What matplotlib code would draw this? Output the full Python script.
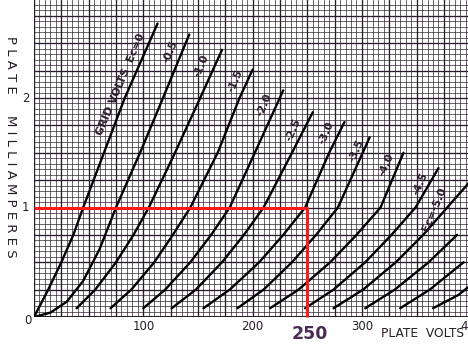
import numpy as np
import matplotlib
matplotlib.use("Agg")
import matplotlib.pyplot as plt

# plate characteristic curves (plate volts, plate mA)
grid_volts = ["0", "-0.5", "-1.0", "-1.5", "-2.0", "-2.5", "-3.0", "-3.5", "-4.0", "-4.5", "-5.0",
              "-5.5", "-6.0", "-6.5"]
curve_mA = [
    [0, 0.25, 0.5, 0.75, 1.0, 1.5, 2.0, 2.68],
    [0, 0.04, 0.14, 0.33, 0.62, 1.0, 1.5, 2.0, 2.58],
    [0.08, 0.25, 0.5, 0.75, 1.0, 1.5, 2.0, 2.44],
    [0.08, 0.25, 0.5, 0.75, 1.0, 1.5, 2.0, 2.26],
    [0.08, 0.25, 0.5, 0.75, 1.0, 1.5, 2.07],
    [0.08, 0.25, 0.5, 0.75, 1.0, 1.5, 1.87],
    [0.08, 0.25, 0.5, 0.75, 1.0, 1.5, 1.78],
    [0.08, 0.25, 0.5, 0.75, 1.0, 1.64],
    [0.08, 0.25, 0.5, 0.75, 1.0, 1.5],
    [0.08, 0.25, 0.5, 0.75, 1.0, 1.36],
    [0.08, 0.25, 0.5, 0.75, 1.0, 1.25],
    [0.08, 0.25, 0.5, 0.75],
    [0.08, 0.25, 0.5],
    [0.08, 0.2, 0.35],
]
curve_volts = [
    [0, 13, 25, 36, 45, 64, 83, 113],
    [0, 15, 30, 45, 60, 75, 97, 118, 142],
    [39, 56, 75, 91, 105, 129, 152, 172],
    [70, 89, 110, 127, 143, 168, 188, 200],
    [100, 120, 143, 162, 179, 202, 228],
    [126, 148, 172, 192, 210, 236, 255],
    [155, 179, 206, 228, 248, 270, 284],
    [186, 210, 236, 258, 278, 307],
    [216, 242, 271, 295, 317, 338],
    [248, 274, 303, 327, 349, 370],
    [274, 301, 331, 356, 378, 400],
    [303, 330, 361, 387],
    [335, 362, 393],
    [365, 388, 407],
]

# curve labels: text, plate volts, mA
label_text = ["GRID VOLTS  Ec=0", "-0.5", "-1.0", "-1.5", "-2.0", "-2.5", "-3.0", "-3.5", "-4.0", "-4.5", "Ec=-5.0"]
label_v = [79, 125, 153, 184, 211, 237, 267, 295, 322, 353, 366]
label_ma = [2.12, 2.42, 2.29, 2.16, 1.94, 1.71, 1.68, 1.52, 1.39, 1.22, 0.98]

op_volts = 250
op_mA = 1.0

INK = "#2a1c2c"
RED = "#ff1a1a"

fig = plt.figure(figsize=(4.68, 3.48), dpi=100)
ax = fig.add_axes([34 / 468, 31 / 348, 1 - 34 / 468, 1 - 31 / 348])
ax.set_xlim(0, 397)
ax.set_ylim(0, 2.895)

# graph paper
for v in np.arange(0, 401, 5):
    heavy = v % 25 == 0
    ax.axvline(v, color=INK, lw=0.95 if heavy else 0.6, alpha=1.0 if heavy else 0.8, zorder=1)
for i in np.arange(0, 2.91, 0.05):
    heavy = round(i * 100) % 25 == 0
    ax.axhline(i, color=INK, lw=0.95 if heavy else 0.6, alpha=1.0 if heavy else 0.8, zorder=1)

for v, i in zip(curve_volts, curve_mA):
    ax.plot(v, i, color="black", lw=1.7, zorder=3, solid_capstyle="round")

for t, v, i in zip(label_text, label_v, label_ma):
    ax.text(v, i, t, rotation=67, ha="center", va="center", fontsize=7.8,
            fontweight="semibold", color=INK, zorder=4)

# operating point
ax.plot([0, op_volts, op_volts], [op_mA, op_mA, 0], color=RED, lw=2.2, zorder=5,
        clip_on=False, solid_capstyle="butt")

for s in ax.spines.values():
    s.set_visible(False)
ax.axvline(0, color=INK, lw=1.5, zorder=2)
ax.axhline(0, color=INK, lw=1.5, zorder=2)
ax.set_xticks([])
ax.set_yticks([])

fig.text(28 / 468, 1 - 320 / 348, "0", ha="center", va="center", fontsize=8.5, color=INK)
for v in [100, 200, 300, 400]:
    ax.text(v, -0.025, str(v), ha="center", va="top", fontsize=8.5, color=INK, clip_on=False)
for i in [1, 2]:
    ax.text(-4, i, str(i), ha="right", va="center", fontsize=8.5, color=INK, clip_on=False)
ax.text(op_volts + 2, -0.07, "250", ha="center", va="top", fontsize=12.5, fontweight="bold",
        color="#4a2c55", clip_on=False)
ax.text(393, -0.095, "PLATE  VOLTS", ha="right", va="top", fontsize=8.8, color=INK, clip_on=False)
fig.text(10 / 468, 1 - 147 / 348, "P L A T E     M I L L I A M P E R E S", rotation=270,
         ha="center", va="center", fontsize=9.5, color=INK)

fig.savefig("out.png", dpi=100)
